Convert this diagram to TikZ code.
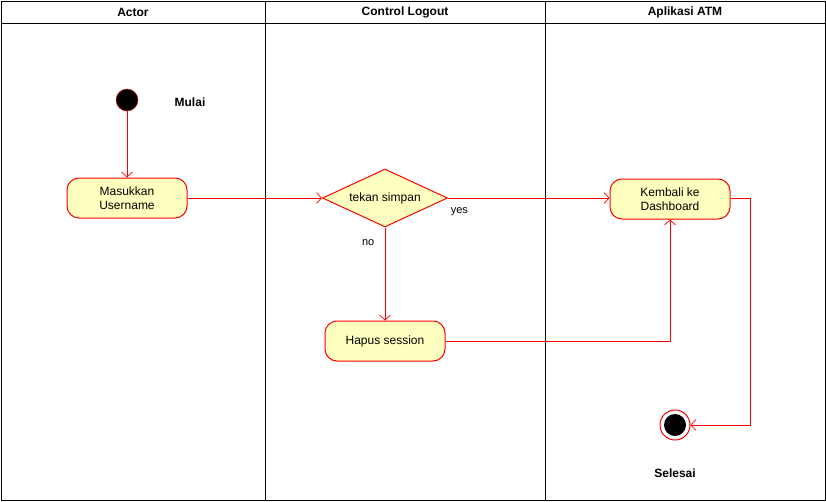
\documentclass[tikz,border=0pt]{standalone}
\usepackage{fontspec}
\setmainfont{Liberation Sans}
\usetikzlibrary{arrows.meta,shapes.geometric}
\definecolor{lred}{HTML}{FF0000}
\definecolor{lfill}{HTML}{FFFFC0}
\tikzset{
  actbox/.style={draw=lred, fill=lfill, line width=1pt, rounded corners=12pt, minimum width=120pt, minimum height=40pt, align=center, font=\fontsize{12}{14}\selectfont, inner sep=2pt},
  decbox/.style={draw=lred, fill=lfill, line width=1pt, diamond, aspect=2.15, minimum width=125pt, minimum height=58pt, inner sep=0pt, font=\fontsize{12}{14}\selectfont},
  flow/.style={draw=lred, line width=0.7pt, -{Straight Barb[length=5pt,width=11pt]}},
  lbl/.style={font=\fontsize{11}{13}\selectfont},
  hdr/.style={font=\bfseries\fontsize{12}{14}\selectfont},
}
\begin{document}
\begin{tikzpicture}[x=1pt,y=-1pt]
\useasboundingbox (0,0) rectangle (826,501);
% swimlanes
\draw[line width=1pt] (1,1) rectangle (825,500);
\draw[line width=1pt] (1,23) -- (825,23);
\draw[line width=1pt] (265,1) -- (265,500);
\draw[line width=1pt] (545,1) -- (545,500);
\node[hdr] (h1) at (133,12) {Actor};
\node[hdr] (h2) at (405,12) {Control Logout};
\node[hdr] (h3) at (685,12) {Aplikasi ATM};
% nodes
\node[circle, fill=black, draw=lred, minimum size=22pt, inner sep=0pt] (start) at (127,100) {};
\node[hdr] (mulai) at (190,102) {Mulai};
\node[actbox] (masuk) at (127,198) {Masukkan\\Username};
\node[decbox] (dec) at (385,198) {tekan simpan};
\node[actbox] (kembali) at (670,199) {Kembali ke\\Dashboard};
\node[actbox] (hapus) at (385,341) {Hapus session};
\node[circle, draw=lred, fill=white, minimum size=30pt, inner sep=0pt, line width=1pt] (end) at (675,425) {};
\node[circle, fill=black, minimum size=22pt, inner sep=0pt] (endin) at (end) {};
\node[hdr] (selesai) at (675,473) {Selesai};
% connectors
\draw[flow] (start) -- (masuk);
\draw[flow] (masuk.east) -- (dec.west);
\draw[flow] (dec.east) -- node[lbl, pos=0.07, below=6pt] (yes) {yes} (dec.east -| kembali.west);
\draw[flow] (dec.south) -- node[lbl, pos=0.16, left=7pt] (no) {no} (hapus.north);
\draw[flow] (hapus.east) -- (kembali.south |- hapus.east) -- (kembali.south);
\coordinate (c1) at (750,198);
\coordinate (c2) at (750,425);
\draw[flow] (kembali.east |- c1) -- (c1) -- (c2) -- (end.east);
\end{tikzpicture}
\end{document}
